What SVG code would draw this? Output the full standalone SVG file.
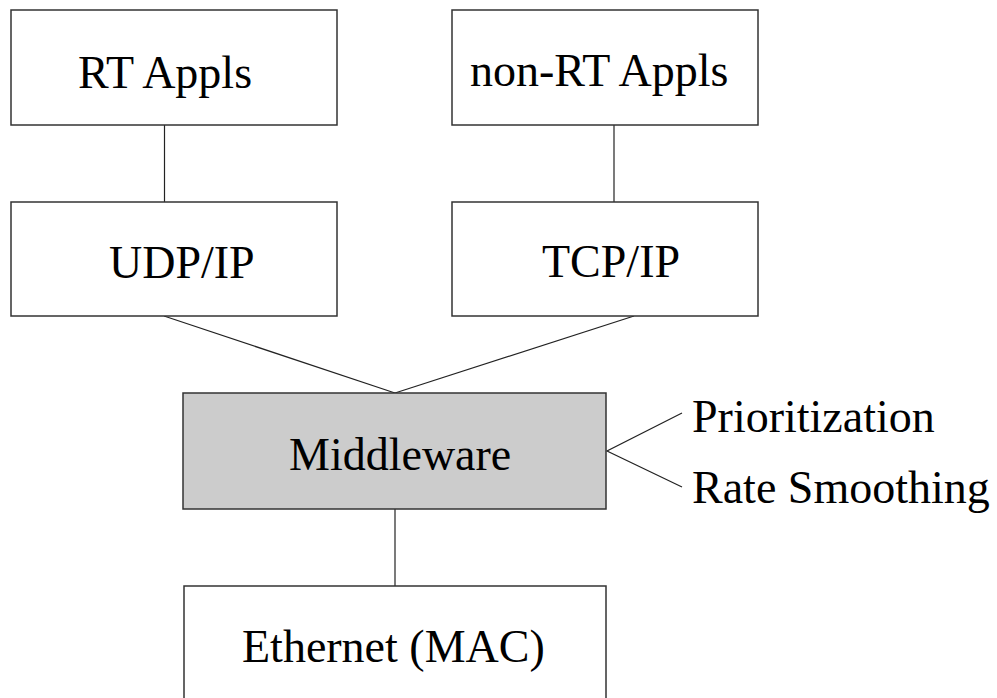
<svg xmlns="http://www.w3.org/2000/svg" width="997" height="698" viewBox="0 0 997 698">
<style>
.box{fill:#ffffff;stroke:#333333;stroke-width:1.5}
.mw{fill:#cccccc;stroke:#333333;stroke-width:1.5}
.ln{fill:none;stroke:#222222;stroke-width:1.2}
text{font-family:"Liberation Serif","Times New Roman",serif;font-size:46px;fill:#000000}
</style>
<rect width="997" height="698" fill="#ffffff"/>
<g id="connectors">
<line class="ln" x1="164.5" y1="125" x2="164.5" y2="202"/>
<line class="ln" x1="614" y1="125" x2="614" y2="202"/>
<line class="ln" x1="164" y1="316" x2="395" y2="393"/>
<line class="ln" x1="634" y1="316" x2="395" y2="393"/>
<line class="ln" x1="395" y1="509" x2="395" y2="586"/>
<polyline class="ln" points="682,413 607,451 682,487"/>
</g>
<g id="rt-appls">
<rect class="box" x="11" y="10" width="326" height="115"/>
<text x="78" y="88">RT Appls</text>
</g>
<g id="non-rt-appls">
<rect class="box" x="452" y="10" width="306" height="115"/>
<text x="470" y="86">non-RT Appls</text>
</g>
<g id="udp-ip">
<rect class="box" x="11" y="202" width="326" height="114"/>
<text x="109" y="278">UDP/IP</text>
</g>
<g id="tcp-ip">
<rect class="box" x="452" y="202" width="306" height="114"/>
<text x="542" y="277">TCP/IP</text>
</g>
<g id="middleware">
<rect class="mw" x="183" y="393" width="423" height="116"/>
<text x="289" y="470">Middleware</text>
</g>
<g id="ethernet">
<rect class="box" x="184" y="586" width="422" height="130"/>
<text x="242" y="662">Ethernet (MAC)</text>
</g>
<g id="prioritization">
<text x="692" y="432">Prioritization</text>
</g>
<g id="rate-smoothing">
<text x="692" y="503">Rate Smoothing</text>
</g>
</svg>
